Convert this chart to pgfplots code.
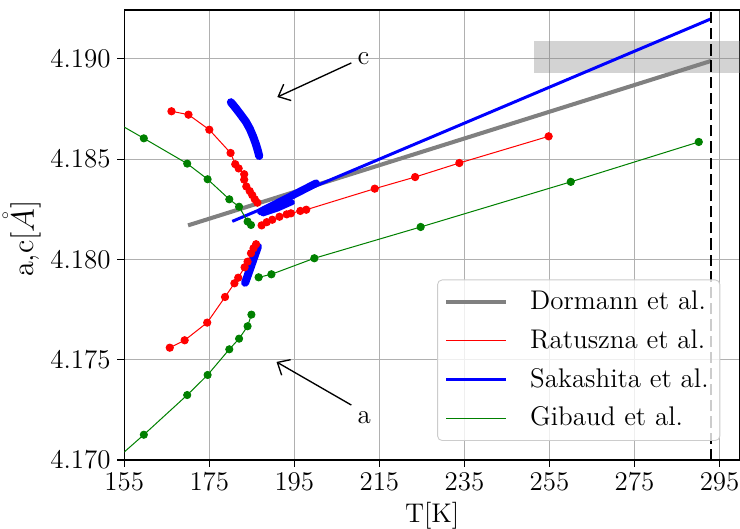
\documentclass[border=0pt]{standalone}
\usepackage{pgfplots}
\pgfplotsset{compat=1.18}
\usetikzlibrary{arrows.meta}
\definecolor{mplgreen}{rgb}{0,0.5,0}
\definecolor{gridgray}{RGB}{176,176,176}
\definecolor{bandgray}{RGB}{128,128,128}
\definecolor{legframe}{RGB}{204,204,204}
\begin{document}
\begin{tikzpicture}
\begin{axis}[
 scale only axis, width=274pt, height=200.25pt,
 xmin=155, xmax=299.8, ymin=4.170, ymax=4.19244,
 xtick={155,175,...,295},
 ytick={4.170,4.175,4.180,4.185,4.190},
 scaled y ticks=false,
 yticklabel style={font=\large, inner sep=0pt, xshift=-2.8pt, /pgf/number format/.cd, fixed, fixed zerofill, precision=3},
 xticklabel style={font=\large, inner sep=0pt, yshift=-2.7pt},
 tick align=outside, xtick pos=bottom, ytick pos=left,
 major tick length=3.1pt,
 tick style={black, line width=0.5pt},
 axis line style={line width=0.6pt},
 grid=major, grid style={gridgray, line width=0.45pt},
 xlabel={T[K]}, ylabel={a,c[$\mathring{A}$]},
 xlabel style={font=\large, at={(axis description cs:0.5,-0.0933)}, anchor=north, inner sep=0pt},
 ylabel style={font=\fontsize{13.5}{16}\selectfont, at={(axis description cs:-0.1337,0.492)}, anchor=south, inner sep=0pt},
 legend style={at={(0.968,0.0423)}, anchor=south east, font=\large,
   draw=legframe, rounded corners=2pt, fill=white,
   fill opacity=0.8, text opacity=1, row sep=3.3pt, inner sep=3pt, column sep=7.8pt},
 legend cell align=left,
 legend image code/.code={\draw[#1] (0pt,0pt) -- (26.6pt,0pt);},
]
% grey band
\addplot[draw=none, fill=bandgray, fill opacity=0.35, forget plot]
  coordinates {(251.3,4.1893) (299.8,4.1893) (299.8,4.1909) (251.3,4.1909)};
% Dormann
\addplot[gray, line width=1.8pt] coordinates {(170,4.1817) (293,4.1899)};
\addlegendentry{Dormann et al.}
% Ratuszna
\addplot[red, line width=0.45pt, mark=*, mark size=1.6pt] coordinates {
(166.1,4.18739) (170.1,4.18722) (175.0,4.18647) (180.0,4.18531) (181.1,4.18475)
(181.9,4.18454) (183.2,4.18425) (183.2,4.18398) (183.7,4.18364) (184.5,4.18341)
(185.1,4.18321) (185.7,4.18300) (186.3,4.18283)};
\addlegendentry{Ratuszna et al.}
\addplot[red, line width=0.45pt, mark=*, mark size=1.6pt, forget plot] coordinates {
(187.3,4.18170) (188.5,4.18186) (189.8,4.18198) (191.5,4.18213) (193.2,4.18225)
(194.2,4.18230) (196.4,4.18242) (197.8,4.18248) (213.9,4.18353) (223.4,4.18411)
(233.8,4.18481) (254.8,4.18614)};
\addplot[red, line width=0.45pt, mark=*, mark size=1.6pt, forget plot] coordinates {
(165.7,4.17560) (169.2,4.17597) (174.5,4.17685) (178.7,4.17813) (180.9,4.17881)
(181.8,4.17909) (183.3,4.17961) (184.0,4.17989) (184.8,4.18031) (185.4,4.18056)
(186.0,4.18076)};
% Sakashita
\addplot[blue, line width=1.33pt] coordinates {(180.4,4.1819) (293,4.1920)};
\addlegendentry{Sakashita et al.}
\addplot[blue, line width=3.6pt, line cap=round, line join=round, forget plot] coordinates {
(180.07,4.18784) (181.24,4.18754) (182.42,4.18721) (183.60,4.18687) (184.54,4.18651)
(185.32,4.18612) (185.95,4.18575) (186.43,4.18541) (186.73,4.18516)};
\addplot[blue, line width=3.6pt, line cap=round, line join=round, forget plot] coordinates {
(183.43,4.17884) (184.92,4.17973) (186.42,4.18064)};
\addplot[blue, line width=3.4pt, line cap=round, line join=round, forget plot] coordinates {
(187.1,4.18239) (193.5,4.18308) (200.1,4.18380)};
\addplot[blue, line width=2.4pt, line cap=round, line join=round, forget plot] coordinates {
(187.6,4.18228) (191.0,4.18252) (194.5,4.18285)};
% Gibaud
\addplot[mplgreen, line width=0.45pt] coordinates {
(155,4.1866) (159.6,4.18604) (169.8,4.18478) (174.6,4.18400) (179.7,4.18300)
(182.0,4.18263) (184.0,4.18189) (184.8,4.18172)};
\addlegendentry{Gibaud et al.}
\addplot[mplgreen, only marks, mark=*, mark size=1.6pt, forget plot] coordinates {
(159.6,4.18604) (169.8,4.18478) (174.6,4.18400) (179.7,4.18300)
(182.0,4.18263) (184.0,4.18189) (184.8,4.18172)};
\addplot[mplgreen, line width=0.45pt, mark=*, mark size=1.6pt, forget plot] coordinates {
(186.6,4.17911) (189.6,4.17926) (199.7,4.18006) (224.7,4.18162) (260.0,4.18387) (290.1,4.18586)};
\addplot[mplgreen, line width=0.45pt, forget plot] coordinates {
(155,4.1704) (159.6,4.17126) (169.8,4.17324) (174.6,4.17424) (179.7,4.17552)
(182.0,4.17605) (184.0,4.17667) (184.9,4.17725)};
\addplot[mplgreen, only marks, mark=*, mark size=1.6pt, forget plot] coordinates {
(159.6,4.17126) (169.8,4.17324) (174.6,4.17424) (179.7,4.17552)
(182.0,4.17605) (184.0,4.17667) (184.9,4.17725)};
% dashed vertical line
\addplot[black, line width=0.9pt, dash pattern=on 5pt off 2.2pt, forget plot]
  coordinates {(293,4.170) (293,4.19244)};
% annotations
\draw[-{Straight Barb[length=4.5pt,width=8pt]}, line width=0.6pt]
  (axis cs:208.4,4.1898) -- (axis cs:191.0,4.1881);
\node[anchor=base west, font=\large, inner sep=0pt] at (axis cs:209.8,4.18970) {c};
\draw[-{Straight Barb[length=4.5pt,width=8pt]}, line width=0.6pt]
  (axis cs:208.4,4.17274) -- (axis cs:190.8,4.17489);
\node[anchor=base west, font=\large, inner sep=0pt] at (axis cs:209.8,4.17180) {a};
\end{axis}
\pgfresetboundingbox
\path ([xshift=-55.3pt,yshift=-30.7pt]current axis.south west) rectangle ([yshift=4.45pt]current axis.north east);
\end{tikzpicture}
\end{document}
